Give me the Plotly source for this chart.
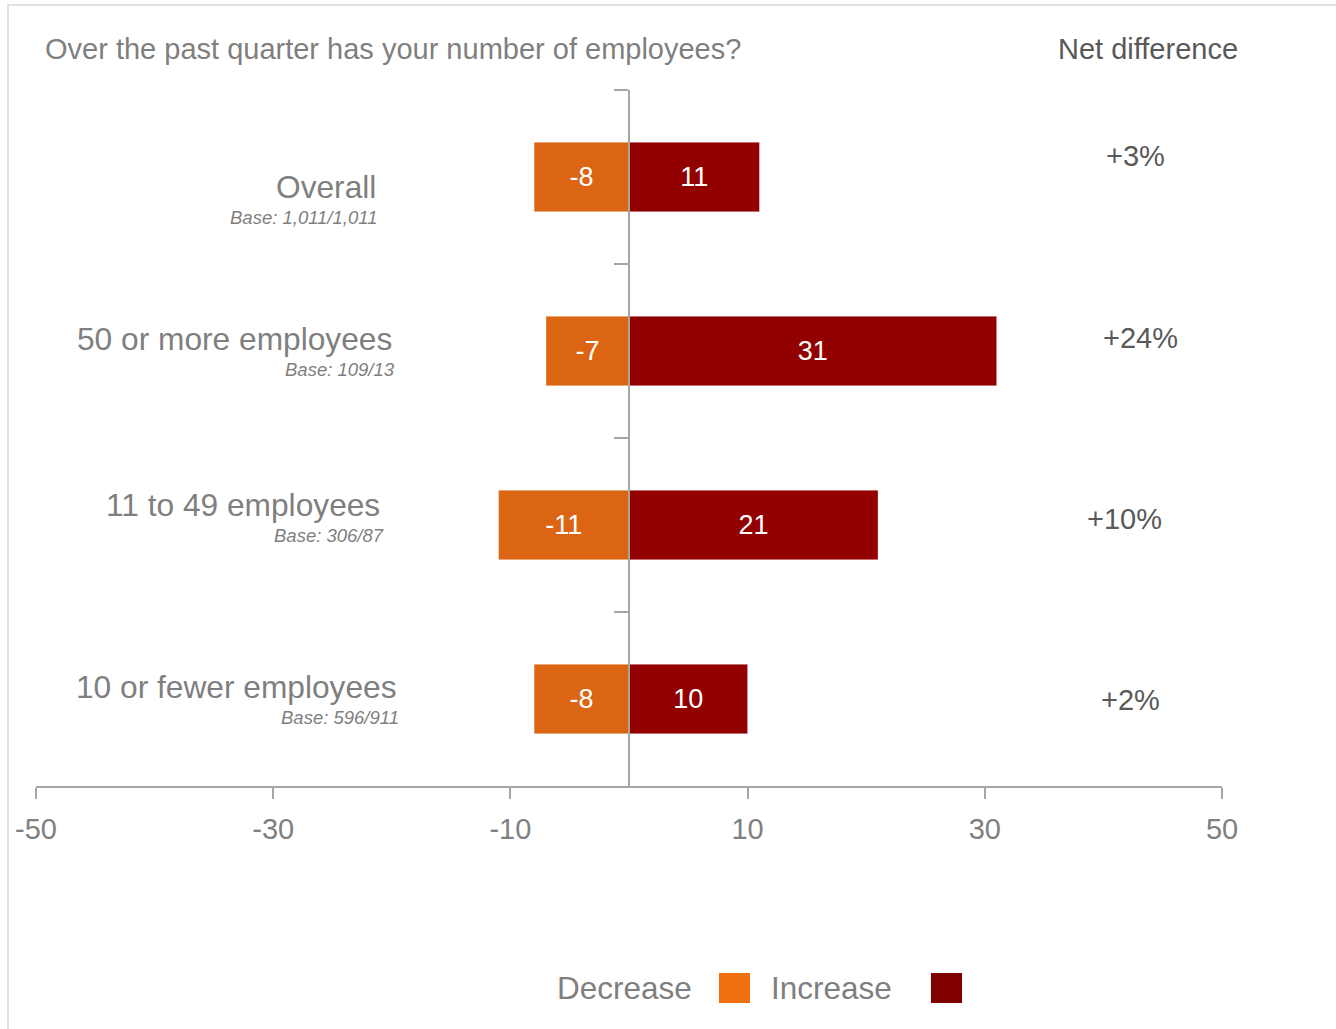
import plotly.graph_objects as go

# ---- data -------------------------------------------------------------
categories = ["Overall", "50 or more employees", "11 to 49 employees", "10 or fewer employees"]
bases = ["Base: 1,011/1,011", "Base: 109/13", "Base: 306/87", "Base: 596/911"]
decrease = [-8, -7, -11, -8]
increase = [11, 31, 21, 10]
tick_values = [-50, -30, -10, 10, 30, 50]

title_text = "Over the past quarter has your number of employees?"
net_header = "Net difference"
legend_names = ["Decrease", "Increase"]

# ---- styling ----------------------------------------------------------
DEC_BAR = "#DB6512"
INC_BAR = "#920000"
DEC_KEY = "#EF7010"
INC_KEY = "#800000"
AXIS_GREY = "#A6A6A6"
LABEL_GREY = "#7F7F7F"
DARK_GREY = "#595959"
SANS = "Liberation Sans, Arial, sans-serif"

# label placement (data x of the right edge, vertical pixel shift)
label_x = [-21.2, -19.8, -20.8, -19.4]
base_x = [-21.1, -19.6, -20.5, -19.2]
label_shift = [-10, 12, 20, 12]
net_x = [42.7, 43.1, 41.8, 42.3]
net_shift = [21, 13, 6, -1]

fig = go.Figure()

fig.add_trace(go.Bar(
    y=categories, x=decrease, orientation="h", width=0.4,
    name=legend_names[0],
    marker=dict(color=DEC_BAR, line=dict(color="rgba(255,255,255,0.35)", width=1)),
    text=[f"{v}" for v in decrease], textposition="inside",
    insidetextanchor="middle", textangle=0,
    textfont=dict(family=SANS, size=27, color="white"),
    showlegend=False, hoverinfo="skip",
))
fig.add_trace(go.Bar(
    y=categories, x=increase, orientation="h", width=0.4,
    name=legend_names[1],
    marker=dict(color=INC_BAR, line=dict(color="rgba(255,255,255,0.35)", width=1)),
    text=[f"{v}" for v in increase], textposition="inside",
    insidetextanchor="middle", textangle=0,
    textfont=dict(family=SANS, size=27, color="white"),
    showlegend=False, hoverinfo="skip",
))

annotations = []

# category names with their base sizes
for i, cat in enumerate(categories):
    annotations.append(dict(
        x=label_x[i], y=cat, xref="x", yref="y", text=cat,
        xanchor="right", yanchor="middle", yshift=label_shift[i],
        showarrow=False, font=dict(family=SANS, size=31.7, color=LABEL_GREY),
    ))
    annotations.append(dict(
        x=base_x[i], y=cat, xref="x", yref="y", text=f"<i>{bases[i]}</i>",
        xanchor="right", yanchor="middle", yshift=label_shift[i] - 30,
        showarrow=False, font=dict(family=SANS, size=18.5, color=LABEL_GREY),
    ))

# net difference column
for i, cat in enumerate(categories):
    net = increase[i] + decrease[i]
    annotations.append(dict(
        x=net_x[i], y=cat, xref="x", yref="y", text=f"{net:+d}%",
        xanchor="center", yanchor="middle", yshift=net_shift[i],
        showarrow=False, font=dict(family=SANS, size=29, color=DARK_GREY),
    ))

# headers
annotations.append(dict(
    x=0.0059, y=1.0589, xref="paper", yref="paper", text=title_text,
    xanchor="left", yanchor="middle", showarrow=False,
    font=dict(family=SANS, size=29, color=LABEL_GREY),
))
annotations.append(dict(
    x=0.9376, y=1.0589, xref="paper", yref="paper", text=net_header,
    xanchor="center", yanchor="middle", showarrow=False,
    font=dict(family=SANS, size=29, color=DARK_GREY),
))

# legend: text followed by its colour key
annotations.append(dict(
    x=0.5548, y=-0.2902, xref="paper", yref="paper", text=legend_names[0],
    xanchor="right", yanchor="middle", showarrow=False,
    font=dict(family=SANS, size=31.5, color=LABEL_GREY),
))
annotations.append(dict(
    x=0.6180, y=-0.2902, xref="paper", yref="paper", text=legend_names[1],
    xanchor="left", yanchor="middle", showarrow=False,
    font=dict(family=SANS, size=31.5, color=LABEL_GREY),
))

shapes = [
    # legend keys
    dict(type="rect", xref="paper", yref="paper",
         x0=0.5759, x1=0.6020, y0=-0.3118, y1=-0.2687,
         fillcolor=DEC_KEY, line=dict(width=0)),
    dict(type="rect", xref="paper", yref="paper",
         x0=0.7546, x1=0.7808, y0=-0.3118, y1=-0.2687,
         fillcolor=INC_KEY, line=dict(width=0)),
    # outer frame
    dict(type="rect", xref="paper", yref="paper",
         x0=-0.0236, x1=1.10, y0=-0.36, y1=1.1221,
         fillcolor="rgba(0,0,0,0)", line=dict(color="#D9D9D9", width=1.5),
         layer="below"),
]

fig.update_layout(
    width=1336, height=1029,
    margin=dict(l=36, r=114, t=90, b=243, pad=0),
    paper_bgcolor="white", plot_bgcolor="white",
    barmode="relative",
    showlegend=False,
    annotations=annotations,
    shapes=shapes,
    xaxis=dict(
        range=[-50, 50], tickvals=tick_values,
        ticktext=[str(v) for v in tick_values],
        showline=True, linecolor=AXIS_GREY, linewidth=2,
        ticks="outside", ticklen=11, tickwidth=2, tickcolor=AXIS_GREY,
        tickfont=dict(family=SANS, size=29, color="#808080"),
        ticklabelstandoff=5,
        showgrid=False, zeroline=False, fixedrange=True,
    ),
    yaxis=dict(
        type="category", categoryorder="array", categoryarray=categories,
        range=[3.5, -0.5],
        anchor="free", position=0.5,
        showline=True, linecolor=AXIS_GREY, linewidth=2,
        ticks="outside", tickson="boundaries", ticklen=14, tickwidth=2,
        tickcolor=AXIS_GREY, showticklabels=False,
        showgrid=False, zeroline=False, fixedrange=True,
    ),
)

fig.write_html("out.html", config={"displayModeBar": False})
